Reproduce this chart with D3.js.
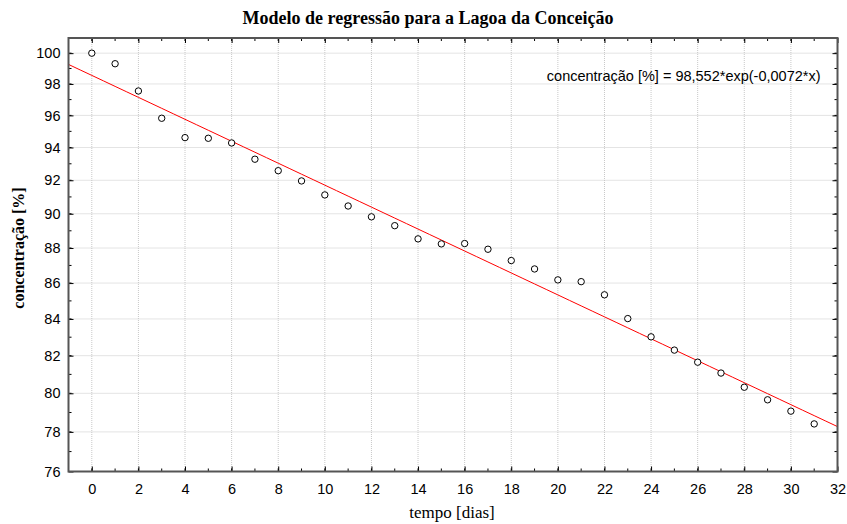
<!DOCTYPE html>
<html>
<head>
<meta charset="utf-8">
<script src="https://cdn.jsdelivr.net/npm/d3@7"></script>
<style>
  body { margin: 0; background: #fff; }
  svg { display: block; }
</style>
</head>
<body>
<div id="chart"></div>
<script>
// dias de medição e concentração medida (%)
var dias = [0, 1, 2, 3, 4, 5, 6, 7, 8, 9, 10, 11, 12, 13, 14, 15,
  16, 17, 18, 19, 20, 21, 22, 23, 24, 25, 26, 27, 28, 29, 30, 31]
var concentracao = [100.0, 99.31, 97.55, 95.82, 94.61, 94.57, 94.28, 93.28,
  92.58, 91.96, 91.12, 90.46, 89.82, 89.30, 88.53, 88.24,
  88.26, 87.93, 87.28, 86.80, 86.18, 86.08, 85.34, 84.02,
  83.02, 82.30, 81.65, 81.07, 80.32, 79.66, 79.07, 78.41]
// parâmetros do modelo ajustado
var fitA = 98.552
var fitB = -0.0072
var xTicks = [0, 2, 4, 6, 8, 10, 12, 14, 16, 18, 20, 22, 24, 26, 28, 30, 32]
var yTicks = [76, 78, 80, 82, 84, 86, 88, 90, 92, 94, 96, 98, 100]

var width = 847, height = 524
var margin = { top: 38, right: 9.5, bottom: 52.5, left: 68.5 }
var w = width - margin.left - margin.right
var h = height - margin.top - margin.bottom
var serif = '"Liberation Serif", "Times New Roman", serif'
var tickFont = '"Liberation Sans", Arial, sans-serif'

var svg = d3.select('#chart').append('svg')
  .attr('width', width).attr('height', height)

svg.append('text')
  .attr('x', 428).attr('y', 24)
  .attr('text-anchor', 'middle')
  .style('font-family', serif)
  .style('font-weight', 'bold').style('font-size', '18px')
  .text('Modelo de regressão para a Lagoa da Conceição')

var g = svg.append('g').attr('transform', 'translate(' + margin.left + ',' + margin.top + ')')

var x = d3.scaleLinear().domain([-1, 32]).range([0, w])
var y = d3.scaleLog().domain([76, 101]).range([h, 0])

var xMinor = d3.range(-1, 33, 1)
var yMinor = d3.range(76, 102, 1)

// grelha pontilhada
g.append('g').selectAll('line').data(xTicks.filter(function (d) { return d < 32 })).enter().append('line')
  .attr('x1', function (d) { return x(d) }).attr('x2', function (d) { return x(d) })
  .attr('y1', 0).attr('y2', h)
  .attr('stroke', '#c8c8c8').attr('stroke-dasharray', '1,1')
g.append('g').selectAll('line').data(yTicks.filter(function (d) { return d > 76 })).enter().append('line')
  .attr('x1', 0).attr('x2', w)
  .attr('y1', function (d) { return y(d) }).attr('y2', function (d) { return y(d) })
  .attr('stroke', '#c8c8c8').attr('stroke-dasharray', '1,1')

// linha do modelo
var fitX = d3.range(-1, 32.01, 0.5)
g.append('path')
  .datum(fitX)
  .attr('fill', 'none').attr('stroke', '#ff0000').attr('stroke-width', 1)
  .attr('d', d3.line()
    .x(function (d) { return x(d) })
    .y(function (d) { return y(fitA * Math.exp(fitB * d)) }))

// pontos observados
g.append('g').selectAll('circle').data(dias).enter().append('circle')
  .attr('cx', function (d) { return x(d) })
  .attr('cy', function (d, i) { return y(concentracao[i]) })
  .attr('r', 3.2)
  .attr('fill', '#fff').attr('stroke', '#000').attr('stroke-width', 1)

// eixos com marcas internas
var xAxis = g.append('g').attr('transform', 'translate(0,' + h + ')')
  .call(d3.axisBottom(x).tickValues(xTicks).tickSize(-5).tickPadding(12).tickFormat(d3.format('d')))
xAxis.append('g').selectAll('line').data(xMinor).enter().append('line')
  .attr('x1', function (d) { return x(d) }).attr('x2', function (d) { return x(d) })
  .attr('y1', 0).attr('y2', -3).attr('stroke', '#000')

var yAxis = g.append('g')
  .call(d3.axisLeft(y).tickValues(yTicks).tickSize(-5).tickPadding(8).tickFormat(d3.format('d')))
yAxis.append('g').selectAll('line').data(yMinor).enter().append('line')
  .attr('x1', 0).attr('x2', 3)
  .attr('y1', function (d) { return y(d) }).attr('y2', function (d) { return y(d) })
  .attr('stroke', '#000')

var topAxis = g.append('g')
  .call(d3.axisTop(x).tickValues(xTicks).tickSize(-5).tickFormat(''))
topAxis.append('g').selectAll('line').data(xMinor).enter().append('line')
  .attr('x1', function (d) { return x(d) }).attr('x2', function (d) { return x(d) })
  .attr('y1', 0).attr('y2', 3).attr('stroke', '#000')

var rightAxis = g.append('g').attr('transform', 'translate(' + w + ',0)')
  .call(d3.axisRight(y).tickValues(yTicks).tickSize(-5).tickFormat(''))
rightAxis.append('g').selectAll('line').data(yMinor).enter().append('line')
  .attr('x1', 0).attr('x2', -3)
  .attr('y1', function (d) { return y(d) }).attr('y2', function (d) { return y(d) })
  .attr('stroke', '#000')

g.selectAll('.domain').attr('stroke', 'none')
g.selectAll('.tick text')
  .style('font-family', tickFont).style('font-size', '14.5px').attr('fill', '#000')

g.append('rect')
  .attr('x', 0).attr('y', 0).attr('width', w).attr('height', h)
  .attr('fill', 'none').attr('stroke', '#555').attr('stroke-width', 2)

g.append('text')
  .attr('x', 752).attr('y', 43)
  .attr('text-anchor', 'end')
  .style('font-family', tickFont).style('font-size', '14.5px')
  .text('concentração [%] = 98,552*exp(-0,0072*x)')

svg.append('text')
  .attr('x', 452).attr('y', 518)
  .attr('text-anchor', 'middle')
  .style('font-family', serif)
  .style('font-size', '17px')
  .text('tempo [dias]')

svg.append('text')
  .attr('transform', 'translate(24,248) rotate(-90)')
  .attr('text-anchor', 'middle')
  .style('font-family', serif)
  .style('font-weight', 'bold').style('font-size', '16px')
  .text('concentração [%]')
</script>
</body>
</html>
